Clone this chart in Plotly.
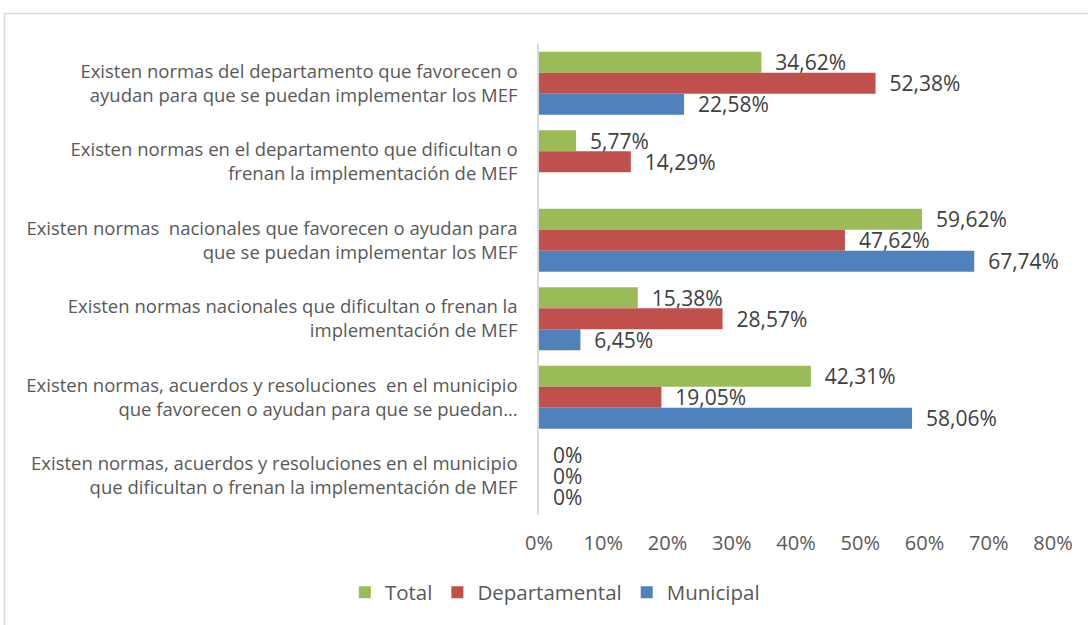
import plotly.graph_objects as go

categories = [
    "Existen normas del departamento que favorecen o<br>ayudan para que se puedan implementar los MEF",
    "Existen normas en el departamento que dificultan o<br>frenan la implementación de MEF",
    "Existen normas  nacionales que favorecen o ayudan para<br>que se puedan implementar los MEF",
    "Existen normas nacionales que dificultan o frenan la<br>implementación de MEF",
    "Existen normas, acuerdos y resoluciones  en el municipio<br>que favorecen o ayudan para que se puedan…",
    "Existen normas, acuerdos y resoluciones en el municipio<br>que dificultan o frenan la implementación de MEF",
]
total = [34.62, 5.77, 59.62, 15.38, 42.31, 0]
departamental = [52.38, 14.29, 47.62, 28.57, 19.05, 0]
municipal = [22.58, None, 67.74, 6.45, 58.06, 0]

series = [("Total", total, "#9BBB59"),
          ("Departamental", departamental, "#C0504D"),
          ("Municipal", municipal, "#4F81BD")]

PAD = "\u00a0\u00a0"


def fmt(v):
    if v is None:
        return ""
    if v == 0:
        return PAD + "0%"
    return PAD + ("%.2f" % v).replace(".", ",") + "%"


fig = go.Figure()
for name, vals, color in series:
    fig.add_trace(go.Bar(
        y=categories, x=vals, name=name, orientation="h",
        marker=dict(color=color, line=dict(width=0)),
        text=[fmt(v) for v in vals], textposition="outside",
        constraintext="none",
        textfont=dict(size=21, color="#404040", family="Open Sans"),
        cliponaxis=False,
    ))

fig.update_layout(
    width=1088, height=625,
    barmode="group", bargap=0.2, bargroupgap=0,
    paper_bgcolor="white", plot_bgcolor="white",
    margin=dict(l=539, r=35, t=44, b=110),
    font=dict(family="Open Sans", color="#595959"),
    xaxis=dict(range=[0, 80], dtick=10, ticksuffix="%", showgrid=False,
               zeroline=False, showline=False, automargin=False,
               ticks="outside", ticklen=10, tickcolor="rgba(0,0,0,0)",
               tickfont=dict(size=20, color="#595959")),
    yaxis=dict(autorange="reversed", showgrid=False, showline=True,
               linecolor="#D9D9D9", linewidth=1.5, automargin=False,
               ticks="outside", ticklen=16, tickcolor="rgba(0,0,0,0)",
               tickfont=dict(size=18.5, color="#595959")),
    legend=dict(orientation="h", xref="container", yref="container",
                x=0.510, y=0.052, xanchor="center", yanchor="middle",
                font=dict(size=20.5, color="#595959"), itemwidth=30,
                traceorder="normal"),
    shapes=[dict(type="rect", xref="paper", yref="paper",
                 x0=-1.04, x1=1.2, y0=-0.4, y1=1.065,
                 line=dict(color="#D9D9D9", width=1.5),
                 fillcolor="rgba(0,0,0,0)", layer="below")],
)

fig.write_html("out.html",
               config={"displayModeBar": False},
               post_script="document.body.style.margin='0';")
